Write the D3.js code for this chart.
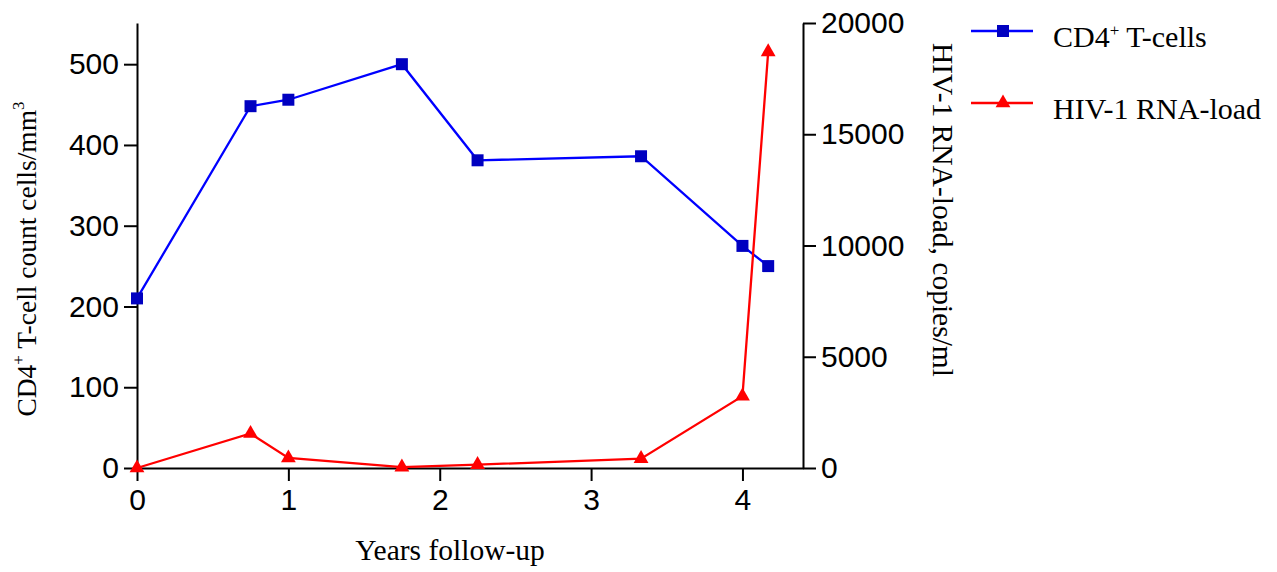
<!DOCTYPE html>
<html>
<head>
<meta charset="utf-8">
<script src="https://cdn.jsdelivr.net/npm/d3@7"></script>
<style>
  body { margin: 0; background: #fff; }
  .tick text { font-family: "Liberation Sans", Arial, sans-serif; font-size: 30px; fill: #000; }
  .axis path, .axis line { stroke: #000; stroke-width: 2px; }
  .lab { font-family: "Liberation Serif", "Times New Roman", serif; font-size: 29.5px; fill: #000; }
</style>
</head>
<body>
<svg width="1277" height="572"></svg>
<script>
// data
var years = [0, 0.75, 1, 1.75, 2.25, 3.33, 4, 4.17];
var cd4 = [210, 448, 456, 500, 381, 386, 275, 250];
var rnaLoad = [0, 1550, 450, 40, 150, 420, 3230, 18700];
var xTicks = [0, 1, 2, 3, 4];
var leftTicks = [0, 100, 200, 300, 400, 500];
var rightTicks = [0, 5000, 10000, 15000, 20000];

var svg = d3.select("svg"),
    margin = {top: 23, right: 474, bottom: 104, left: 137},
    width = 1277 - margin.left - margin.right,
    height = 572 - margin.top - margin.bottom,
    g = svg.append("g")
      .attr("transform", "translate(" + margin.left + "," + margin.top + ")");

var x = d3.scaleLinear().domain([0, 4.4]).range([0, width]);
var yL = d3.scaleLinear().domain([0, 551]).range([height, 0]);
var yR = d3.scaleLinear().domain([0, 20000]).range([height, 0]);

// axes
g.append("g")
    .attr("class", "axis")
    .attr("transform", "translate(0," + height + ")")
    .call(d3.axisBottom(x).tickValues(xTicks).tickSize(13).tickSizeOuter(0).tickPadding(8).tickFormat(d3.format("d")));

g.append("g")
    .attr("class", "axis")
    .call(d3.axisLeft(yL).tickValues(leftTicks).tickSize(13).tickSizeOuter(0).tickPadding(5).tickFormat(d3.format("d")));

g.append("g")
    .attr("class", "axis")
    .attr("transform", "translate(" + width + ",0)")
    .call(d3.axisRight(yR).tickValues(rightTicks).tickSize(13).tickSizeOuter(0).tickPadding(5).tickFormat(d3.format("d")));

// lines
var blueLine = d3.line()
    .x(function(d, i) { return x(years[i]); })
    .y(function(d) { return yL(d); });
var redLine = d3.line()
    .x(function(d, i) { return x(years[i]); })
    .y(function(d) { return yR(d); });

g.append("path").datum(cd4)
    .attr("d", blueLine)
    .attr("fill", "none").attr("stroke", "#0000ff").attr("stroke-width", 2.3);

g.append("path").datum(rnaLoad)
    .attr("d", redLine)
    .attr("fill", "none").attr("stroke", "#ff0000").attr("stroke-width", 2.3);

var sq = d3.symbol().type(d3.symbolSquare).size(144);
var tri = d3.symbol().type(d3.symbolTriangle).size(95);

g.selectAll(".sq").data(cd4).enter().append("path")
    .attr("class", "sq")
    .attr("d", sq)
    .attr("transform", function(d, i) { return "translate(" + x(years[i]) + "," + yL(d) + ")"; })
    .attr("fill", "#0000c0");

g.selectAll(".tri").data(rnaLoad).enter().append("path")
    .attr("class", "tri")
    .attr("d", tri)
    .attr("transform", function(d, i) { return "translate(" + x(years[i]) + "," + yR(d) + ")"; })
    .attr("fill", "#ff0000");

// axis labels
var lt = svg.append("text")
    .attr("class", "lab")
    .style("font-size", "27.5px")
    .attr("transform", "translate(36,259) rotate(-90)")
    .attr("text-anchor", "middle");
lt.append("tspan").text("CD4");
lt.append("tspan").attr("dy", -12).style("font-size", "17px").text("+");
lt.append("tspan").attr("dy", 12).text(" T-cell count cells/mm");
lt.append("tspan").attr("dy", -12).style("font-size", "17px").text("3");

svg.append("text")
    .attr("class", "lab")
    .attr("transform", "translate(933,210) rotate(90)")
    .attr("text-anchor", "middle")
    .text("HIV-1 RNA-load, copies/ml");

svg.append("text")
    .attr("class", "lab")
    .attr("x", 450).attr("y", 560)
    .attr("text-anchor", "middle")
    .text("Years follow-up");

// legend
var legend = svg.append("g").attr("transform", "translate(971,0)");
var items = [
  {y: 31, color: "#0000ff", mark: "#0000c0", sym: sq, name: "CD4", sup: "+", rest: " T-cells"},
  {y: 103, color: "#ff0000", mark: "#ff0000", sym: tri, name: "HIV-1 RNA-load", sup: "", rest: ""}
];
items.forEach(function(it) {
  legend.append("line")
      .attr("x1", 0).attr("x2", 62).attr("y1", it.y).attr("y2", it.y)
      .attr("stroke", it.color).attr("stroke-width", 2.3);
  legend.append("path")
      .attr("d", it.sym)
      .attr("transform", "translate(32," + it.y + ")")
      .attr("fill", it.mark);
  var t = legend.append("text").attr("class", "lab").style("font-size", "30px").attr("x", 82).attr("y", it.y + 16);
  t.append("tspan").text(it.name);
  if (it.sup) {
    t.append("tspan").attr("dy", -11).style("font-size", "17px").text(it.sup);
    t.append("tspan").attr("dy", 11).text(it.rest);
  }
});
</script>
</body>
</html>
